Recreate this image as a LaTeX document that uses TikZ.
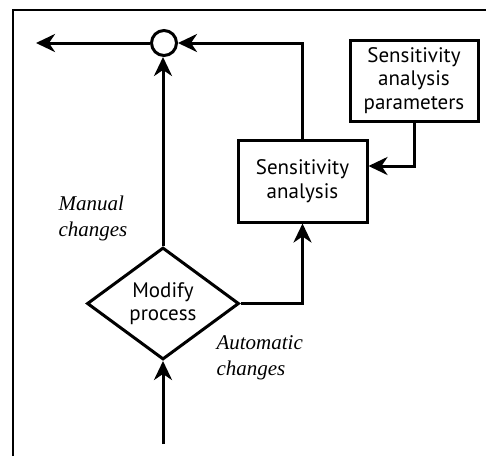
\documentclass[tikz,border=0pt]{standalone}
\usepackage{fontspec}
\setmainfont{PT Sans}
\newfontfamily\labfont{Liberation Serif}
\usetikzlibrary{shapes.geometric,arrows.meta}
\begin{document}
\begin{tikzpicture}[x=1pt,y=-1pt,
  line width=3pt,
  arr/.style={-{Stealth[length=19pt,width=18pt,inset=6pt]}},
  box/.style={draw,line width=3pt,align=center,font=\fontsize{21}{23.5}\selectfont,inner sep=0pt},
  lab/.style={font=\labfont\itshape\fontsize{21}{26}\selectfont,align=left,inner sep=0pt}]
\useasboundingbox (0,0) rectangle (486,456);
\draw[line width=2.4pt] (13,456) -- (13,10) -- (486,10);
\node[circle,draw,minimum size=25pt,inner sep=0pt] (sum) at (164,43) {};
\node[box,diamond,minimum width=152pt,minimum height=112pt,aspect=1.36] (mod) at (163,303.5) {Modify\\process};
\node[box,minimum width=129pt,minimum height=82pt] (sa) at (302.5,181) {Sensitivity\\analysis};
\node[box,minimum width=128pt,minimum height=81pt] (sap) at (414,80.5) {Sensitivity\\analysis\\parameters};
\coordinate (out) at (36,43);
\coordinate (in) at (163,444);
\draw[arr] (sum.west) -- (out);
\draw[arr] (mod.north) -- (mod.north |- sum.south);
\draw[arr] (in) -- (mod.south);
\draw[arr] (mod.east) -| (sa.south);
\draw[arr] (sa.north) |- (sum.east);
\draw[arr] (sap.south) |- ([yshift=15pt]sa.east);
\node[lab] (man) at (93,218) {Manual\\changes};
\node[lab,anchor=west] (aut) at (215,358) {Automatic\\changes};
\end{tikzpicture}
\end{document}
